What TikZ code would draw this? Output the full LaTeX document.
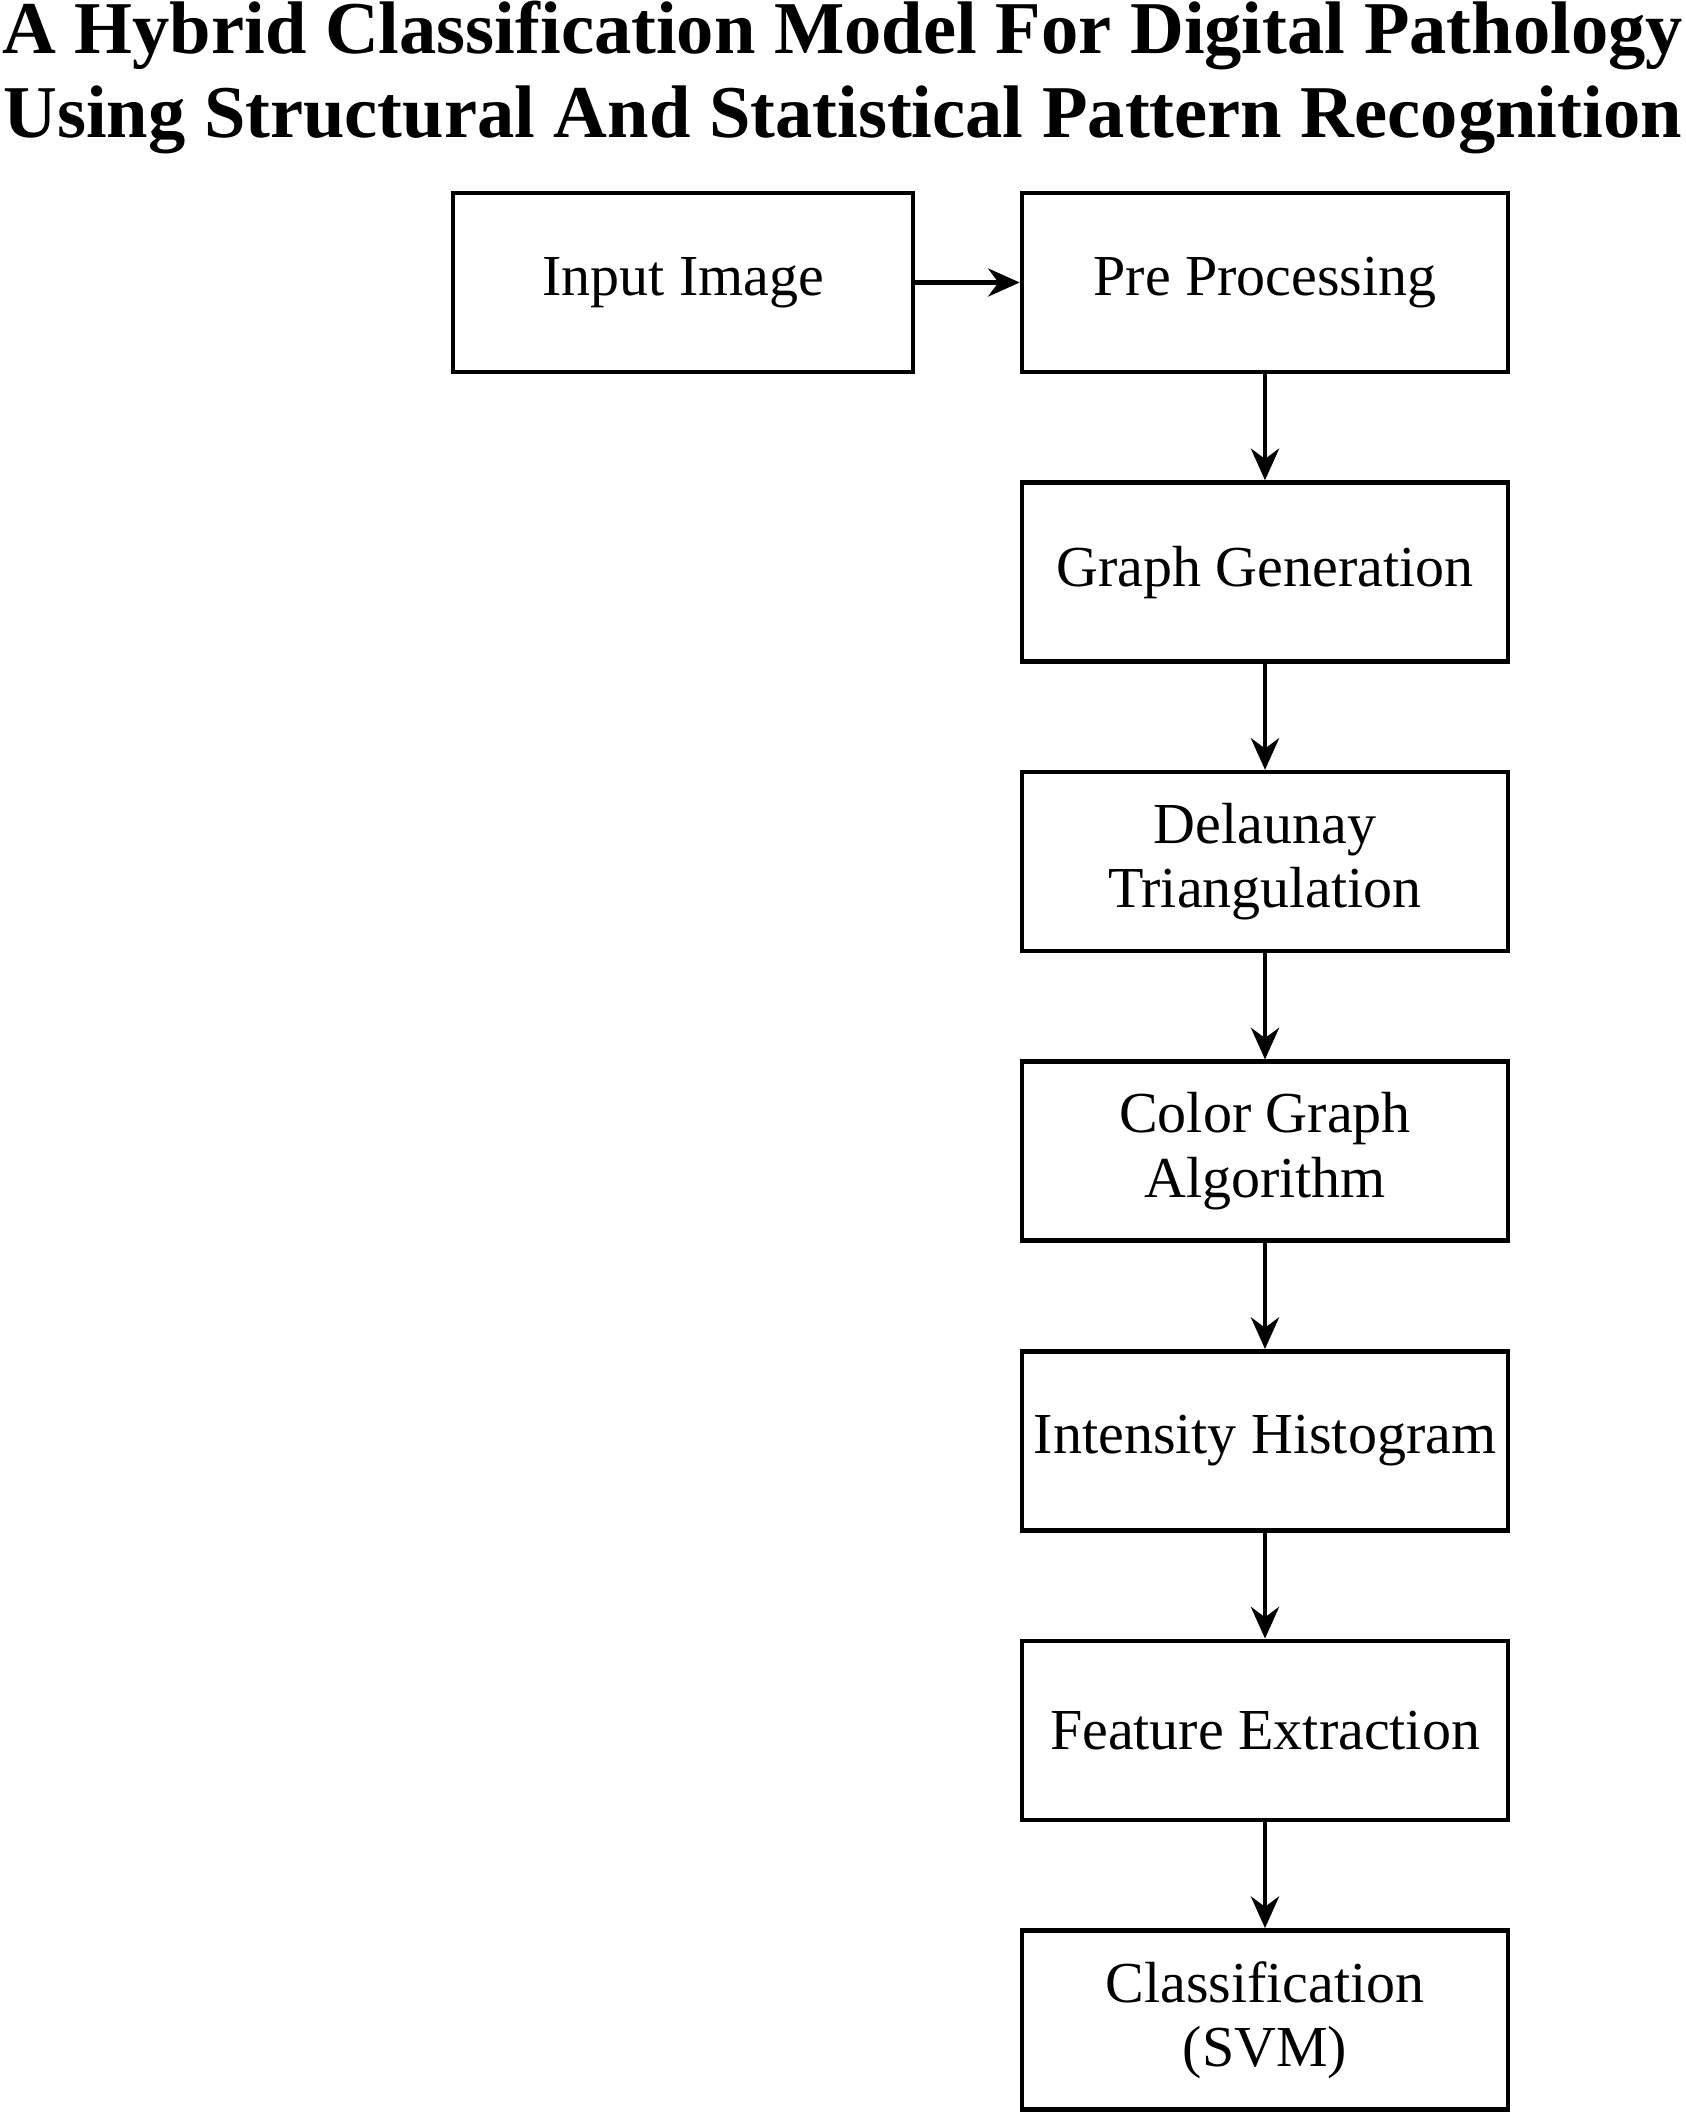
\documentclass[tikz,border=0pt]{standalone}
\usepackage{fontspec}
\setmainfont{Liberation Serif}
\usetikzlibrary{positioning,arrows.meta}

\begin{document}
\begin{tikzpicture}[line width=1.3pt, >={Stealth[length=9pt,width=8pt]},
	stage/.style={draw, rectangle, minimum width=4.86cm, minimum height=1.79cm, inner sep=0pt, align=center, font=\fontsize{16.5}{18.3}\selectfont},
	heading/.style={anchor=base, inner sep=0pt, font=\fontsize{21.2}{24}\selectfont\bfseries},
	node distance=1.06cm]
	% Khung của hình
	\useasboundingbox (0,0) rectangle (16.85,-21.13);
	
	% Tiêu đề
	\node[heading] (title1) at (8.425,-0.54) {A Hybrid Classification Model For Digital Pathology};
	\node[heading] (title2) at (8.425,-1.37) {Using Structural And Statistical Pattern Recognition};
	
	% Các khối xử lý
	\node[stage] (pre) at (12.65,-2.825) {Pre Processing};
	\node[stage, minimum width=4.60cm] (input) at (6.83,-2.825) {Input Image};
	\node[stage, below=of pre] (graph) {Graph Generation};
	\node[stage, below=of graph] (delaunay) {Delaunay\\Triangulation};
	\node[stage, below=of delaunay] (color) {Color Graph\\Algorithm};
	\node[stage, below=of color] (histogram) {Intensity Histogram};
	\node[stage, below=of histogram] (feature) {Feature Extraction};
	\node[stage, below=of feature] (classify) {Classification\\(SVM)};
	
	% Các mũi tên
	\draw[->] (input) -- (pre);
	\foreach \from/\to in {pre/graph, graph/delaunay, delaunay/color, color/histogram, histogram/feature, feature/classify}
		\draw[->] (\from) -- (\to);
\end{tikzpicture}
\end{document}
